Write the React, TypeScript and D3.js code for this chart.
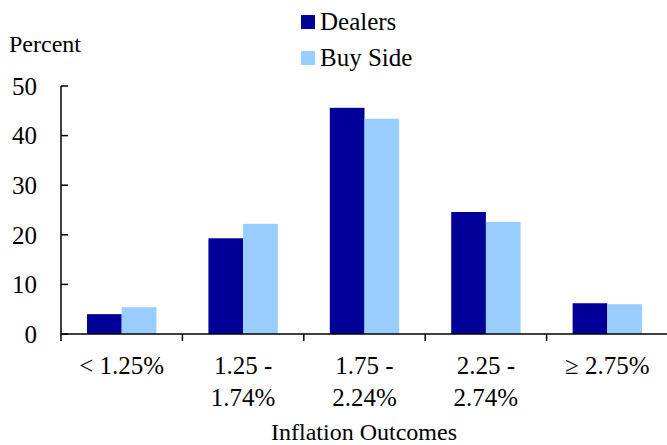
import React from "react";
import * as d3 from "d3";

const categories: string[][] = [
  ["< 1.25%"],
  ["1.25 -", "1.74%"],
  ["1.75 -", "2.24%"],
  ["2.25 -", "2.74%"],
  ["\u2265 2.75%"],
];
const seriesNames = ["Dealers", "Buy Side"];
const dealers = [4.0, 19.3, 45.6, 24.6, 6.2];
const buySide = [5.4, 22.2, 43.4, 22.6, 6.0];
const yTicks = [0, 10, 20, 30, 40, 50];
const colors = ["#000099", "#99CCFF"];

const W = 667;
const H = 445;
const FONT = '"Liberation Serif", "DejaVu Serif", serif';

export default function App() {
  const keys = categories.map((c) => c.join(" "));
  const x0 = d3.scaleBand<string>().domain(keys).range([61, 668]).paddingInner(0).paddingOuter(0);
  const x1 = d3
    .scaleBand<string>()
    .domain(seriesNames)
    .range([0, x0.bandwidth()])
    .paddingInner(0)
    .paddingOuter(0.75);
  const y = d3.scaleLinear().domain([0, 50]).range([334, 86]);
  const series = [dealers, buySide];
  const boundaries = keys.map((k) => x0(k)!);
  const ts: React.CSSProperties = { fontFamily: FONT };

  return (
    <svg
      width={W}
      height={H}
      style={{ position: "absolute", left: 0, top: 0, background: "#fff", fontFamily: FONT }}
    >
      <rect x={0} y={0} width={W} height={H} fill="#fff" />
      {series.map((vals, si) =>
        vals.map((v, ci) => (
          <rect
            key={`${si}-${ci}`}
            x={x0(keys[ci])! + x1(seriesNames[si])!}
            y={y(v)}
            width={x1.bandwidth()}
            height={y(0) - y(v)}
            fill={colors[si]}
          />
        ))
      )}
      <line x1={61} x2={61} y1={y(50)} y2={y(0)} stroke="#000" strokeWidth={1.5} />
      {yTicks.map((t) => (
        <g key={t}>
          <line x1={61} x2={68} y1={y(t)} y2={y(t)} stroke="#000" strokeWidth={1.5} />
          <text x={37} y={y(t)} dy="0.35em" textAnchor="end" fontSize={25} fill="#000" style={ts}>
            {t}
          </text>
        </g>
      ))}
      <line x1={61} x2={668} y1={y(0)} y2={y(0)} stroke="#000" strokeWidth={1.5} />
      {boundaries.map((b, i) => (
        <line key={i} x1={b} x2={b} y1={y(0)} y2={y(0) + 7} stroke="#000" strokeWidth={1.5} />
      ))}
      {categories.map((lines, ci) => (
        <text
          key={ci}
          x={x0(keys[ci])! + x0.bandwidth() / 2}
          y={374}
          textAnchor="middle"
          fontSize={25}
          fill="#000"
          style={ts}
        >
          {lines.map((l, li) => (
            <tspan key={li} x={x0(keys[ci])! + x0.bandwidth() / 2} dy={li === 0 ? 0 : 31.7}>
              {l}
            </tspan>
          ))}
        </text>
      ))}
      <text x={364} y={440} textAnchor="middle" fontSize={24} fill="#000" style={ts}>
        Inflation Outcomes
      </text>
      <text x={9} y={52} fontSize={24} fill="#000" style={ts}>
        Percent
      </text>
      {seriesNames.map((n, i) => (
        <g key={n}>
          <rect x={301} y={15 + i * 36} width={14} height={14} fill={colors[i]} />
          <text x={320} y={30 + i * 36} fontSize={25} fill="#000" style={ts}>
            {n}
          </text>
        </g>
      ))}
    </svg>
  );
}
